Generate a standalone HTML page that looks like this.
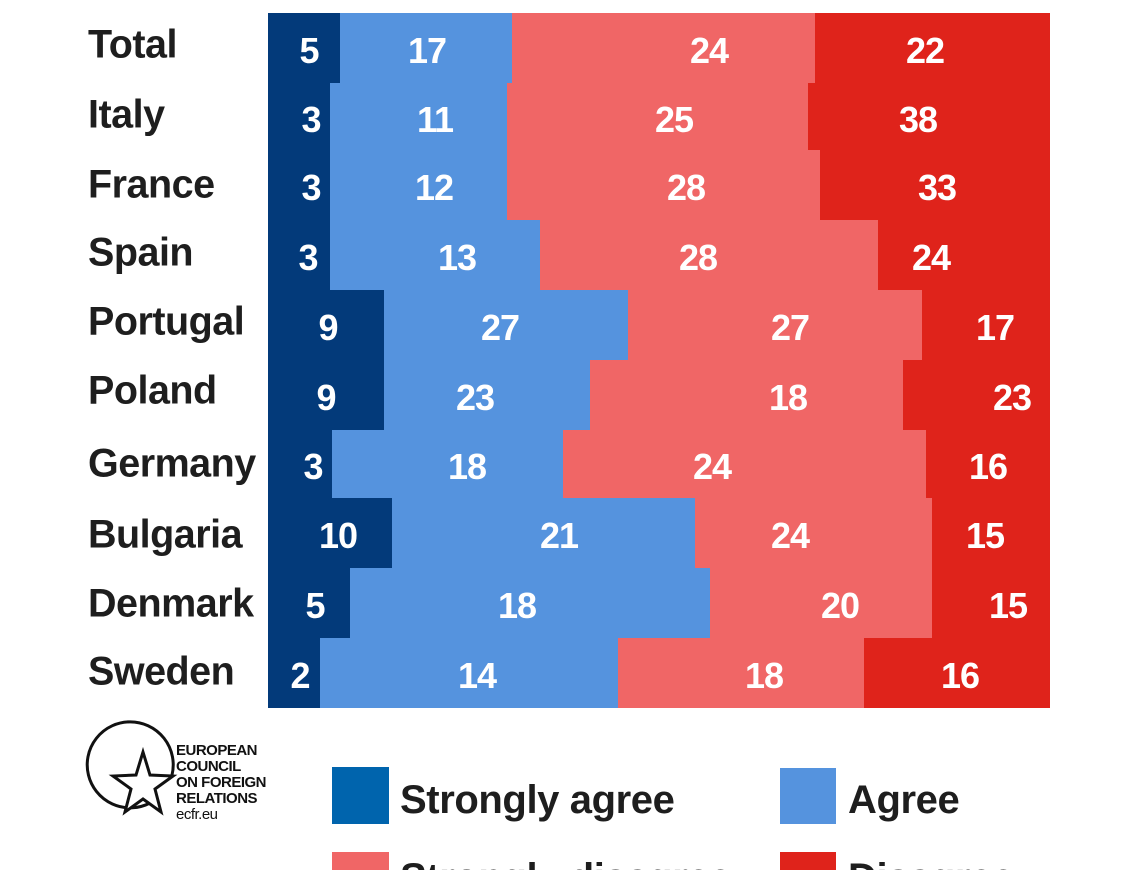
<!DOCTYPE html>
<html style="overflow:hidden"><head><meta charset="utf-8"><style>
html,body{margin:0;width:1140px;height:870px;overflow:hidden}
body{background:#fff;position:relative;font-family:"Liberation Sans",sans-serif}
.n{position:absolute;color:#fff;font-weight:bold;font-size:36px;transform:translate(-50%,-50%);letter-spacing:-1px;z-index:2}
.l{position:absolute;left:88px;font-weight:bold;font-size:39.5px;color:#1e1e1e;transform:translateY(-50%);letter-spacing:-0.5px;z-index:2}
.lg{position:absolute;font-weight:bold;font-size:40px;color:#1e1e1e;letter-spacing:-0.4px;z-index:2}
</style></head><body>
<svg width="1140" height="870" style="position:absolute;left:0;top:0;z-index:1">
<g id="bars"></g>
<path d="M150 803 A43 43 0 1 1 172 775" fill="none" stroke="#111" stroke-width="3"/>
<polygon points="143,752 150,775 173,776 155,789 161,812 143,799 125,812 131,789 113,776 136,775" fill="#fff" stroke="#111" stroke-width="3"/>
<rect x="332" y="767" width="57" height="57" fill="#0064ad"/>
<rect x="780" y="768" width="56" height="56" fill="#5593de"/>
<rect x="332" y="852" width="57" height="57" fill="#f06666"/>
<rect x="780" y="852" width="56" height="57" fill="#df231b"/>
</svg>
<div id="c"></div>
<div style="position:absolute;z-index:2;left:176px;top:743px;font-size:15px;font-weight:bold;line-height:16px;color:#111;letter-spacing:-0.5px">EUROPEAN<br>COUNCIL<br>ON FOREIGN<br>RELATIONS<br><span style="font-weight:normal">ecfr.eu</span></div>
<div class="lg" style="left:400px;top:778px">Strongly agree</div>
<div class="lg" style="left:848px;top:778px">Agree</div>
<div class="lg" style="left:400px;top:856px">Strongly disagree</div>
<div class="lg" style="left:848px;top:856px">Disagree</div>
<script>
var rows=[
["Total",13,83,[340,512,815],[[309,"5"],[427,"17"],[709,"24"],[925,"22"]],45],
["Italy",83,150,[330,507,808],[[311,"3"],[435,"11"],[674,"25"],[918,"38"]],115],
["France",150,220,[330,507,820],[[311,"3"],[434,"12"],[686,"28"],[937,"33"]],185],
["Spain",220,290,[330,540,878],[[308,"3"],[457,"13"],[698,"28"],[931,"24"]],253],
["Portugal",290,360,[384,628,922],[[328,"9"],[500,"27"],[790,"27"],[995,"17"]],322],
["Poland",360,430,[384,590,903],[[326,"9"],[475,"23"],[788,"18"],[1012,"23"]],391],
["Germany",430,498,[332,563,926],[[313,"3"],[467,"18"],[712,"24"],[988,"16"]],464],
["Bulgaria",498,568,[392,695,932],[[338,"10"],[559,"21"],[790,"24"],[985,"15"]],535],
["Denmark",568,638,[350,710,932],[[315,"5"],[517,"18"],[840,"20"],[1008,"15"]],604],
["Sweden",638,708,[320,618,864],[[300,"2"],[477,"14"],[764,"18"],[960,"16"]],672]];
var cols=["#033a7a","#5593de","#f06666","#df231b"];
var s="",h="";
rows.forEach(function(r){
 var xs=[268].concat(r[3]).concat([1050]);
 for(var i=0;i<4;i++) s+='<rect x="'+xs[i]+'" y="'+r[1]+'" width="'+(xs[i+1]-xs[i])+'" height="'+(r[2]-r[1])+'" fill="'+cols[i]+'"/>';
 var yc=(r[1]+r[2])/2+3;
 r[4].forEach(function(p){h+='<div class="n" style="left:'+p[0]+'px;top:'+yc+'px">'+p[1]+'</div>';});
 h+='<div class="l" style="top:'+r[5]+'px">'+r[0]+'</div>';
});
document.getElementById("bars").innerHTML=s;
document.getElementById("c").innerHTML=h;
</script>
</body></html>
